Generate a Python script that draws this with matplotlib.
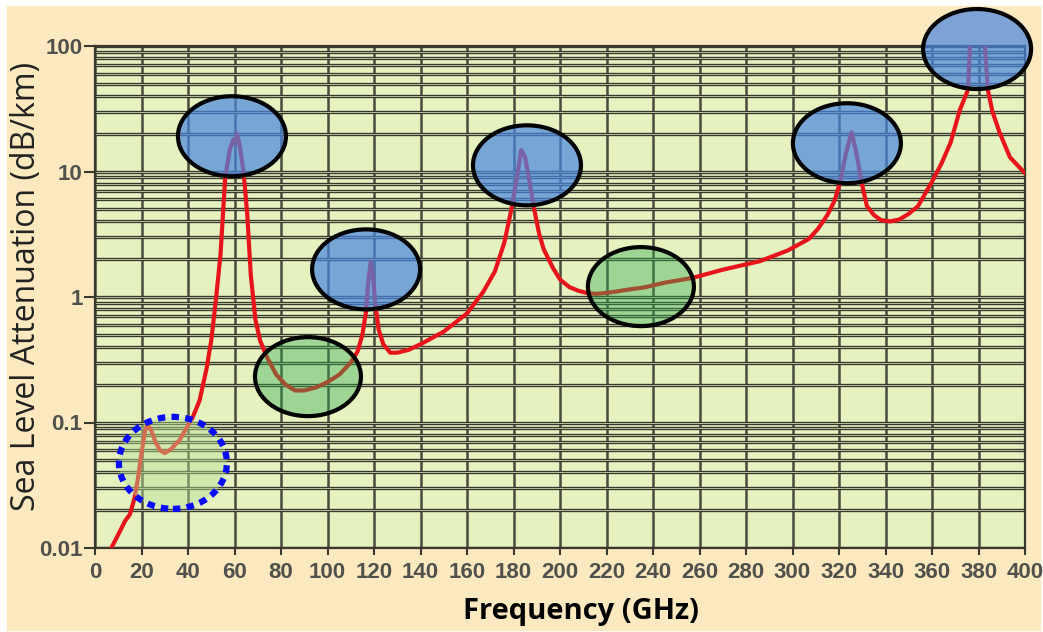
import numpy as np
import matplotlib
matplotlib.use("Agg")
import matplotlib.pyplot as plt
import matplotlib.patheffects as pe
from matplotlib.patches import Ellipse, Rectangle
from matplotlib.transforms import ScaledTranslation

# Sea-level attenuation vs frequency
freq_ghz = [7, 10, 13, 15, 17, 18.5, 20, 21.5, 22.5, 24, 26, 28, 30, 33,
            36.5, 40, 42, 45, 48, 50, 52, 54, 56, 58, 59.5, 60.3, 61, 62,
            63, 64, 65.5, 67, 69, 71, 74, 78, 82, 86, 90, 95, 100, 105, 110,
            113, 115, 116.5, 117.5, 118.6, 119.5, 120.5, 122, 124, 127, 130,
            135, 140, 150, 160, 167, 172, 176, 179, 181.5, 183.3, 185, 187,
            189, 191, 193, 197, 200, 204, 208, 212, 216, 222, 230, 236, 245,
            257, 270, 286, 298, 307, 311, 315, 318, 320.5, 323, 325.4, 327.5,
            329.7, 332, 335, 338, 342, 346, 350, 354, 360, 364, 368, 372,
            375.5, 376.5, 379.5, 382.5, 384, 386, 389, 393.5, 400]
atten_db_km = [0.010, 0.0128, 0.0165, 0.0185, 0.025, 0.036, 0.057, 0.085,
               0.096, 0.088, 0.070, 0.060, 0.057, 0.062, 0.073, 0.095, 0.11,
               0.15, 0.27, 0.45, 0.95, 2.2, 9.0, 15, 18, 16.5, 20, 17, 13,
               9.5, 4.5, 1.5, 0.66, 0.45, 0.33, 0.24, 0.20, 0.18, 0.18, 0.19,
               0.21, 0.24, 0.30, 0.37, 0.50, 0.75, 1.3, 1.9, 1.5, 0.9, 0.55,
               0.42, 0.36, 0.36, 0.38, 0.42, 0.53, 0.74, 1.1, 1.6, 2.7, 4.9,
               9.0, 14.8, 13, 8.0, 4.9, 3.2, 2.4, 1.7, 1.38, 1.2, 1.12, 1.07,
               1.06, 1.09, 1.15, 1.19, 1.3, 1.42, 1.65, 1.93, 2.35, 2.9, 3.5,
               4.5, 5.8, 8.2, 14, 20.5, 14, 8.2, 5.3, 4.5, 4.1, 4.0, 4.15,
               4.6, 5.3, 8.3, 11.5, 17, 31, 45, 120, 400, 120, 45, 30, 20.6,
               13, 9.7]

# absorption peaks and transmission windows marked on the curve
peak_f = [58.9, 116.6, 185.8, 323.4, 379.4]
peak_a = [19.1, 1.66, 11.2, 16.8, 94.6]
window_f = [91.6, 234.8]
window_a = [0.232, 1.21]
vapour_f = [33.5]
vapour_a = [0.0477]

xticks = list(range(0, 401, 20))
yticks = [0.01, 0.1, 1, 10, 100]
ylabels = ["0.01", "0.1", "1", "10", "100"]

W, H, DPI = 1043, 632, 100
PEACH = "#fde9c0"
PAPER = "#e6f1c0"
INK = "#38382e"

fig = plt.figure(figsize=(W / DPI, H / DPI), dpi=DPI, facecolor="white")
fig.add_artist(Rectangle((7 / W, 2 / H), 1033 / W, 624 / H,
                         transform=fig.transFigure, color=PEACH, zorder=-10))
ax = fig.add_axes([95 / W, 84 / H, 930 / W, 502 / H])
ax.set_facecolor(PAPER)
ax.set_yscale("log")
ax.set_xlim(0, 400)
ax.set_ylim(0.01, 100)
ax.set_axisbelow(True)

# grid: single dark verticals, doubled horizontals
ax.set_xticks(xticks)
ax.xaxis.grid(True, color=INK, lw=1.8, alpha=0.9)
ax.yaxis.grid(True, which="both", color="#c9d3a6", lw=0.6,
              path_effects=[pe.withStroke(linewidth=2.4, foreground=INK)])

ax.set_yticks(yticks, ylabels)
ax.tick_params(axis="y", which="minor", length=0)
ax.tick_params(axis="y", which="major", length=8, width=1.5, color=INK,
               pad=1)
ax.tick_params(axis="x", length=5, width=1.5, color=INK, pad=5)
for lbl in ax.get_xticklabels() + ax.get_yticklabels():
    lbl.set_fontfamily("Liberation Sans")
    lbl.set_fontsize(16)
    lbl.set_fontweight("bold")
    lbl.set_color("#50504c")
for sp in ax.spines.values():
    sp.set_color(INK)
    sp.set_linewidth(1.6)

ax.plot(freq_ghz, atten_db_km, color="#e8141c", lw=3, zorder=3)


def mark(f, a, w, h, **kw):
    # fixed-size ellipse (pixels) centred on a data point
    tr = fig.dpi_scale_trans + ScaledTranslation(f, a, ax.transData)
    ax.add_patch(Ellipse((0, 0), w / DPI, h / DPI, transform=tr,
                         clip_on=False, zorder=5, **kw))


for f, a in zip(peak_f, peak_a):
    mark(f, a, 108, 80, facecolor=(0.28, 0.52, 0.88, 0.7),
         edgecolor="black", lw=3)
for f, a in zip(window_f, window_a):
    mark(f, a, 106, 79, facecolor=(0.2, 0.68, 0.32, 0.4),
         edgecolor="black", lw=3)
for f, a in zip(vapour_f, vapour_a):
    mark(f, a, 108, 92, facecolor=(0.72, 0.88, 0.58, 0.45),
         edgecolor="#0a0aff", lw=4.5, linestyle=(0, (1.2, 1.0)))

fig.text(27 / W, 346 / H, "Sea Level Attenuation (dB/km)", rotation=90,
         ha="center", va="center", fontsize=23, fontfamily="Open Sans",
         color="#222222")
fig.text(581 / W, 21 / H, "Frequency (GHz)", ha="center", va="center",
         fontsize=21, fontfamily="Open Sans", fontweight="bold",
         color="black")

fig.savefig("out.png", dpi=DPI, facecolor=fig.get_facecolor())
